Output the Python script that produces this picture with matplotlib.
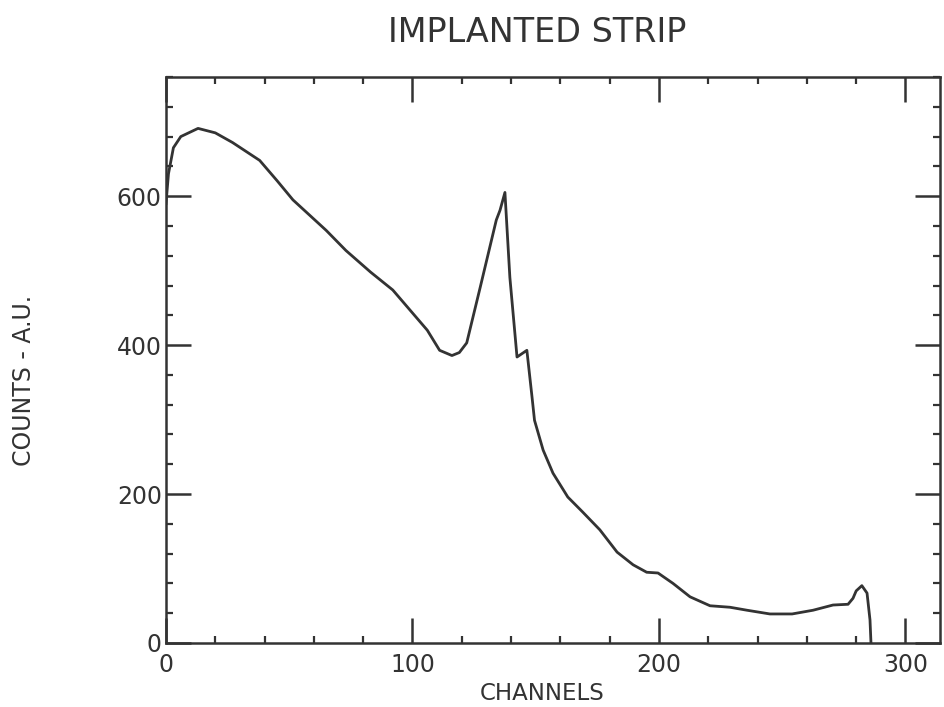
import matplotlib
matplotlib.use("Agg")
import matplotlib.pyplot as plt
from matplotlib.ticker import MultipleLocator

# Data
channels = [0, 1, 3, 6, 13, 20, 27, 38, 45, 51.5, 65, 73, 83, 92, 99, 106, 111,
            116, 119, 122, 127.5, 134, 135.5, 137.5, 139.5, 142.4, 146.4, 148.5,
            149.5, 153, 157, 163, 169, 176, 183, 189.5, 195, 199.6, 205.7, 212.6,
            220.7, 228.8, 235.7, 245, 254, 262.5, 270.6, 276.7, 278.7, 280,
            282.3, 284.4, 285.6, 286]
counts = [590, 630, 665, 680, 691, 685, 672, 648, 621, 595, 554, 527, 498, 474,
          447, 420, 393, 386, 390, 403, 478, 568, 581, 605, 491, 384, 393, 330,
          299, 259, 228, 196, 176, 152, 122, 105, 95, 94, 80, 62, 50, 48, 44,
          39, 39, 44, 51, 52, 60, 70, 77, 67, 31, 0]

title = "IMPLANTED STRIP"
xlabel = "CHANNELS"
ylabel = "COUNTS - A.U."
xticks = [0, 100, 200, 300]
yticks = [0, 200, 400, 600]

ink = "#333333"
plt.rcParams['font.family'] = ['DejaVu Sans']

fig = plt.figure(figsize=(9.45, 7.07), dpi=100)
ax = fig.add_axes([166/945, 1-643/707, (940-166)/945, (643-77)/707])

ax.plot(channels, counts, color=ink, lw=2.0, solid_joinstyle='round')

ax.set_xlim(0, 314)
ax.set_ylim(0, 760)
ax.set_xticks(xticks)
ax.set_yticks(yticks)
ax.xaxis.set_minor_locator(MultipleLocator(20))
ax.yaxis.set_minor_locator(MultipleLocator(40))
ax.tick_params(which='both', direction='in', top=True, right=True,
               color=ink, labelcolor=ink, labelsize=17)
ax.tick_params(which='major', length=18, width=1.8)
ax.tick_params(which='minor', length=5, width=1.6)
ax.tick_params(axis='x', which='major', pad=7)
ax.tick_params(axis='y', which='major', pad=3)
for s in ax.spines.values():
    s.set_color(ink)
    s.set_linewidth(1.8)

fig.text(537/945, 1-32/707, title, ha='center', va='center', fontsize=24, color=ink)
fig.text(542/945, 1-693/707, xlabel, ha='center', va='center', fontsize=16.5, color=ink)
fig.text(24/945, 1-380/707, ylabel, ha='center', va='center', rotation=90,
         fontsize=17, color=ink)

fig.savefig("out.png", dpi=100)
